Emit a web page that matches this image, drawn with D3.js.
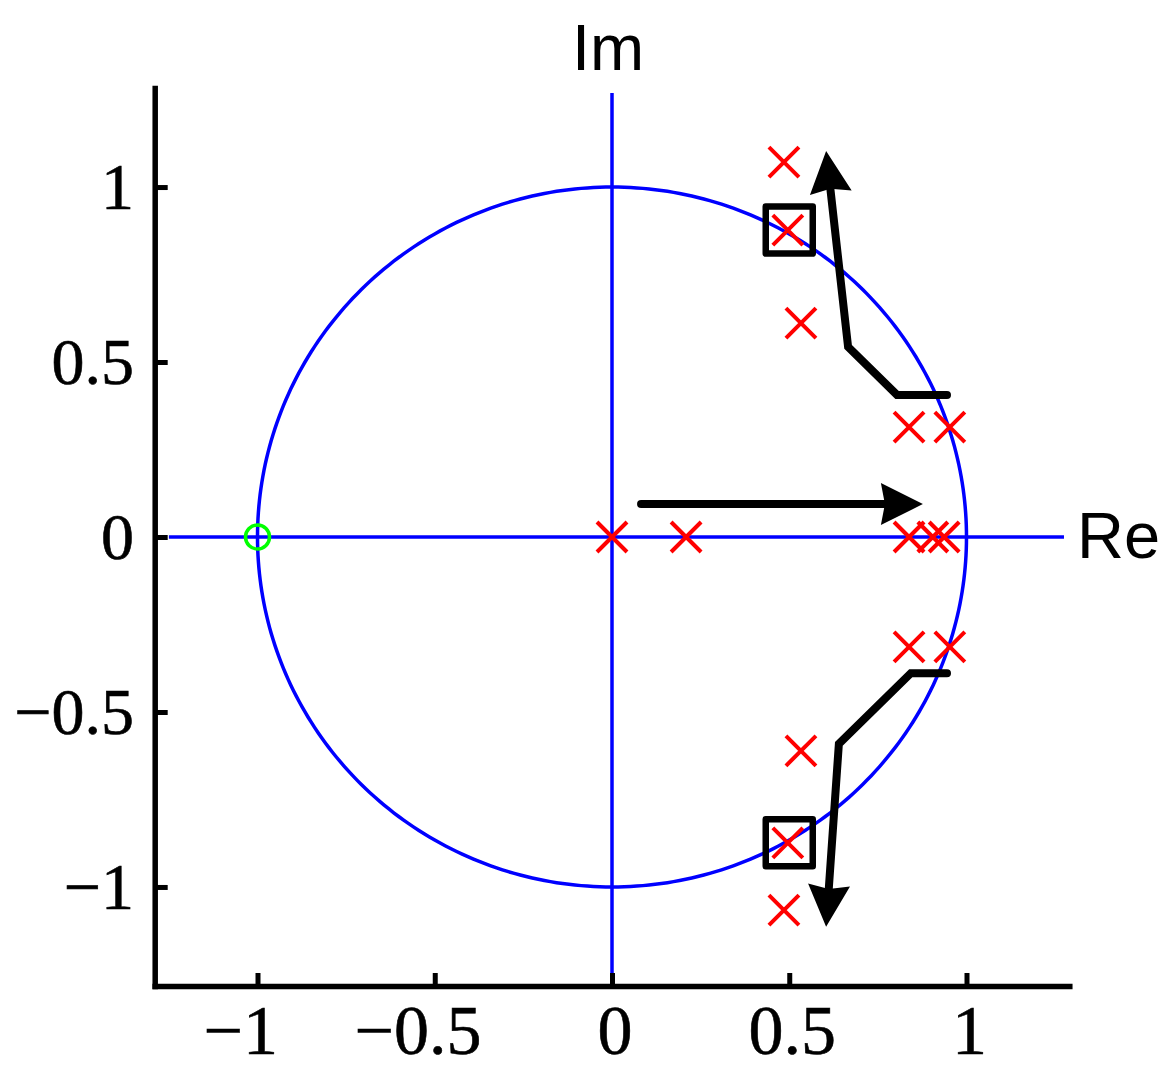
<!DOCTYPE html>
<html>
<head>
<meta charset="utf-8">
<script src="https://cdn.jsdelivr.net/npm/d3@7/dist/d3.min.js"></script>
<style>
  html, body { margin: 0; padding: 0; background: #fff; }
  svg { display: block; }
</style>
</head>
<body>
<svg id="chart" width="1174" height="1073"></svg>
<script>
// ---- data ----
const xTicks = [-1, -0.5, 0, 0.5, 1];
const xTickLabels = ["\u22121", "\u22120.5", "0", "0.5", "1"];
const yTicks = [-1, -0.5, 0, 0.5, 1];
const yTickLabels = ["\u22121", "\u22120.5", "0", "0.5", "1"];

const poleRe = [0, 0.209, 0.838, 0.905, 0.937, 0.838, 0.953, 0.838, 0.953, 0.485, 0.496, 0.533, 0.533, 0.496, 0.485];
const poleIm = [0, 0, 0, 0, 0, 0.314, 0.314, -0.314, -0.314, 1.071, 0.877, 0.611, -0.611, -0.874, -1.066];

const zeroRe = [-1];
const zeroIm = [0];

const boxRe = [0.50, 0.50];
const boxIm = [0.877, -0.874];

const realAxisRe = [-1.25, 1.275];
const imagAxisIm = [-1.28, 1.269];

const arrowRight = [[0.082, 0.094], [0.877, 0.094]];
const arrowUp = [[0.945, 0.406], [0.804, 0.406], [0.666, 0.543], [0.604, 1.103]];
const arrowDown = [[0.945, -0.389], [0.843, -0.389], [0.640, -0.591], [0.604, -1.114]];

const xLim = [-1.29, 1.29];
const yLim = [-1.283, 1.283];

// ---- scales ----
const x = d3.scaleLinear().domain(xLim).range([154.7, 1069.3]);
const y = d3.scaleLinear().domain(yLim).range([986, 88]);

const svg = d3.select("#chart");
const g = svg.append("g");

// unit circle
const angles = d3.range(0, 361, 1).map(a => a * Math.PI / 180);
g.append("path")
  .datum(angles)
  .attr("d", d3.line().x(t => x(Math.cos(t))).y(t => y(Math.sin(t))))
  .attr("fill", "none").attr("stroke", "#0000ff").attr("stroke-width", 3.5);

// real / imaginary axes lines
g.append("line")
  .attr("x1", x(realAxisRe[0])).attr("x2", x(realAxisRe[1]))
  .attr("y1", y(0)).attr("y2", y(0))
  .attr("stroke", "#0000ff").attr("stroke-width", 3.5);
g.append("line")
  .attr("x1", x(0)).attr("x2", x(0))
  .attr("y1", y(imagAxisIm[0])).attr("y2", y(imagAxisIm[1]))
  .attr("stroke", "#0000ff").attr("stroke-width", 3.5);

// axes
const xAxis = d3.axisBottom(x).tickValues(xTicks).tickSizeInner(-13).tickSizeOuter(0).tickFormat("");
const yAxis = d3.axisLeft(y).tickValues(yTicks).tickSizeInner(-13).tickSizeOuter(0).tickFormat("");
const gx = g.append("g").attr("transform", `translate(0,${y(yLim[0])})`).call(xAxis);
const gy = g.append("g").attr("transform", `translate(${x(xLim[0])},0)`).call(yAxis);
[gx, gy].forEach(ax => {
  ax.select(".domain").attr("stroke", "#000").attr("stroke-width", 5.5).attr("stroke-linecap", "square");
  ax.selectAll(".tick line").attr("stroke", "#000").attr("stroke-width", 5);
});

// tick labels
const serif = "'Liberation Serif', 'Times New Roman', serif";
function measure(txt, size) {
  const t = svg.append("text").attr("font-family", serif).attr("font-size", size).text(txt);
  const w = t.node().getComputedTextLength();
  t.remove();
  return w;
}
const xFont = 70;
const minusW = measure("\u2212", xFont);
xTicks.forEach((v, i) => {
  const lab = xTickLabels[i];
  const neg = lab.startsWith("\u2212");
  const num = neg ? lab.slice(1) : lab;
  const numW = measure(num, xFont);
  const startX = x(v) + 3 - numW / 2 - (neg ? minusW : 0);
  g.append("text")
    .attr("x", startX).attr("y", 1054)
    .attr("font-family", serif).attr("font-size", xFont)
    .attr("text-anchor", "start").attr("fill", "#000")
    .attr("stroke", "#000").attr("stroke-width", 0.6)
    .text(lab);
});
yTicks.forEach((v, i) => {
  g.append("text")
    .attr("x", 134).attr("y", y(v) + 22)
    .attr("font-family", serif).attr("font-size", 66)
    .attr("text-anchor", "end").attr("fill", "#000")
    .attr("stroke", "#000").attr("stroke-width", 0.6)
    .text(yTickLabels[i]);
});

// Re / Im labels
const sans = "'Liberation Sans', Arial, sans-serif";
g.append("text").attr("x", 608).attr("y", 70)
  .attr("font-family", sans).attr("font-size", 65).attr("text-anchor", "middle").text("Im");
g.append("text").attr("x", 1077).attr("y", 558)
  .attr("font-family", sans).attr("font-size", 65).attr("text-anchor", "start").text("Re");

// arrows
function drawArrow(pts) {
  const px = pts.map(p => [x(p[0]), y(p[1])]);
  const n = px.length;
  const tip = px[n - 1], prev = px[n - 2];
  const dx = tip[0] - prev[0], dy = tip[1] - prev[1];
  const len = Math.hypot(dx, dy);
  const ux = dx / len, uy = dy / len;
  const nx = -uy, ny = ux;
  const headL = 42, headW = 21, notch = 4;
  const base = [tip[0] - ux * headL, tip[1] - uy * headL];
  const back = [tip[0] - ux * (headL - notch), tip[1] - uy * (headL - notch)];
  const shaft = px.slice(0, n - 1).concat([[tip[0] - ux * (headL - 6), tip[1] - uy * (headL - 6)]]);
  g.append("path")
    .attr("d", d3.line()(shaft))
    .attr("fill", "none").attr("stroke", "#000").attr("stroke-width", 8)
    .attr("stroke-linejoin", "miter").attr("stroke-linecap", "round");
  const head = [
    tip,
    [base[0] + nx * headW, base[1] + ny * headW],
    back,
    [base[0] - nx * headW, base[1] - ny * headW]
  ];
  g.append("path").attr("d", d3.line()(head) + "Z").attr("fill", "#000");
}
drawArrow(arrowRight);
drawArrow(arrowUp);
drawArrow(arrowDown);

// squares
const boxHalf = 23.5;
boxRe.forEach((v, i) => {
  g.append("rect")
    .attr("x", x(v) - boxHalf).attr("y", y(boxIm[i]) - boxHalf)
    .attr("width", boxHalf * 2).attr("height", boxHalf * 2)
    .attr("fill", "none").attr("stroke", "#000").attr("stroke-width", 6.5)
    .attr("stroke-linejoin", "round");
});

// zero marker
zeroRe.forEach((v, i) => {
  g.append("circle").attr("cx", x(v)).attr("cy", y(zeroIm[i])).attr("r", 12)
    .attr("fill", "none").attr("stroke", "#00ff00").attr("stroke-width", 3.5);
});

// pole markers
const s = 15;
poleRe.forEach((v, i) => {
  const cx = x(v), cy = y(poleIm[i]);
  g.append("path")
    .attr("d", `M${cx - s},${cy - s}L${cx + s},${cy + s}M${cx - s},${cy + s}L${cx + s},${cy - s}`)
    .attr("stroke", "#ff0000").attr("stroke-width", 4).attr("fill", "none");
});
</script>
</body>
</html>
